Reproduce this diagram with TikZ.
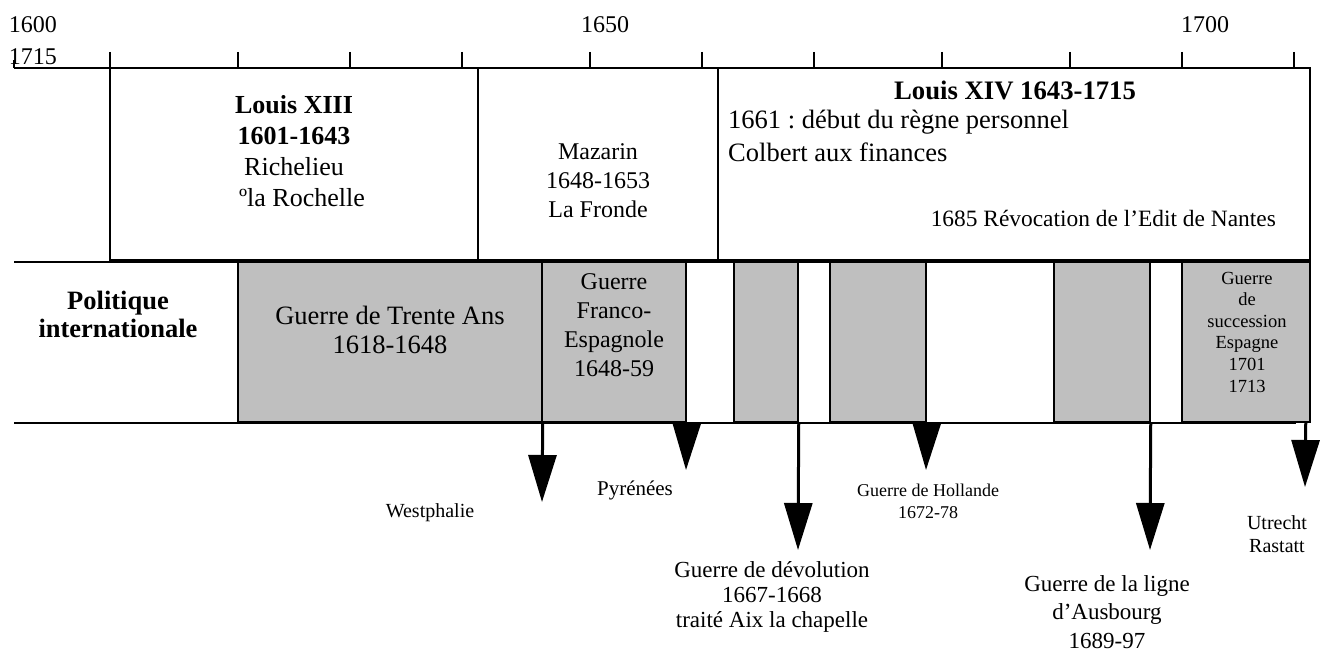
\documentclass[tikz,border=0pt]{standalone}
\usepackage{fontspec}
\setmainfont{Liberation Serif}
\usetikzlibrary{arrows.meta}

\definecolor{wargray}{gray}{0.75}

\tikzset{
  frame/.style={draw, line width=1.5pt, inner sep=0pt},
  warbox/.style={frame, fill=wargray},
  txt/.style={align=center, inner sep=0pt},
  year/.style={inner sep=0pt, font={\fontsize{24}{28}\selectfont}},
  treaty/.style={line width=3pt, -{Triangle[width=28pt,length=47pt]}},
}

\begin{document}
\frenchspacing
\begin{tikzpicture}[x=1pt,y=-1pt]
  \useasboundingbox (0,0) rectangle (1330,655);

  % time axis
  \draw[line width=1.5pt] (14,68) -- (1310,68);
  \draw[line width=1.5pt] (14,60) -- (14,68);
  \foreach \t in {110,238,350,462,590,702,814,942,1070,1182,1294}
    \draw[line width=1.5pt] (\t,52) -- (\t,68);
  \node[year] (y1600) at (33,25) {1600};
  \node[year] (y1715) at (33,57) {1715};
  \node[year] (y1650) at (605,25) {1650};
  \node[year] (y1700) at (1205,25) {1700};

  % reigns
  \node[frame, minimum width=368pt, minimum height=192pt] (louisXIII) at (294,164) {};
  \node[frame, minimum width=240pt, minimum height=192pt] (mazarin) at (598,164) {};
  \node[frame, minimum width=592pt, minimum height=192pt] (louisXIV) at (1014,164) {};

  \node[txt, font={\fontsize{26}{31}\selectfont}] (louisXIIItxt) at (294,151)
    {\textbf{Louis XIII}\\\textbf{1601-1643}\\Richelieu\\\hspace*{16pt}ºla Rochelle};
  \node[txt, font={\fontsize{24}{29}\selectfont}] (mazarintxt) at (598,181)
    {Mazarin\\1648-1653\\La Fronde};
  \node[txt, font={\fontsize{26.7}{31}\selectfont\bfseries}] (louisXIVtxt) at (1015,90)
    {Louis XIV 1643-1715};
  \node[txt, align=left, anchor=west, font={\fontsize{26.5}{33}\selectfont}] (regne) at (728,136)
    {1661 : début du règne personnel\\Colbert aux finances};
  \node[txt, anchor=east, font={\fontsize{23.4}{28}\selectfont}] (nantes) at (1276,218)
    {1685 Révocation de l’Edit de Nantes};

  % foreign policy band
  \draw[line width=1.5pt] (14,262) -- (1310,262);
  \draw[line width=1.5pt] (14,423) -- (1296,423);
  \node[txt, font={\fontsize{26.5}{28}\selectfont\bfseries}] (politique) at (118,314)
    {Politique\\internationale};

  \node[warbox, minimum width=304pt, minimum height=160pt] (trente) at (390,342) {};
  \node[warbox, minimum width=144pt, minimum height=160pt] (franco) at (614,342) {};
  \node[warbox, minimum width=64pt, minimum height=160pt] (devol) at (766,342) {};
  \node[warbox, minimum width=96pt, minimum height=160pt] (holl) at (878,342) {};
  \node[warbox, minimum width=96pt, minimum height=160pt] (ausb) at (1102,342) {};
  \node[warbox, minimum width=128pt, minimum height=160pt] (succ) at (1246,342) {};

  \node[txt, font={\fontsize{26.5}{29}\selectfont}] (trentetxt) at (390,330)
    {Guerre de Trente Ans\\1618-1648};
  \node[txt, font={\fontsize{24}{29}\selectfont}] (francotxt) at (614,325)
    {Guerre\\Franco-\\Espagnole\\1648-59};
  \node[txt, font={\fontsize{18.5}{21.6}\selectfont}] (succtxt) at (1247,332)
    {Guerre\\de\\succession\\Espagne\\1701\\1713};

  % treaties
  \coordinate (westTip) at (542,502);
  \coordinate (pyrTip) at (686,470);
  \coordinate (devolTip) at (798,550);
  \coordinate (hollTip) at (926,470);
  \coordinate (ausbTip) at (1150,550);
  \coordinate (utrTip) at (1305,487);
  \draw[treaty] (trente.south east) -- (westTip);
  \draw[treaty] (franco.south east) -- (pyrTip);
  \draw[treaty] (devol.south east) -- (devolTip);
  \draw[treaty] (holl.south east) -- (hollTip);
  \draw[treaty] (ausb.south east) -- (ausbTip);
  \draw[treaty] ([xshift=-5pt]succ.south east) -- (utrTip);

  \node[txt, font={\fontsize{20}{22}\selectfont}] (westphalie) at (430,513) {Westphalie};
  \node[txt, font={\fontsize{21}{23}\selectfont}] (pyrenees) at (635,490) {Pyrénées};
  \node[txt, font={\fontsize{23}{25}\selectfont}] (devoltxt) at (772,597)
    {Guerre de dévolution\\1667-1668\\traité Aix la chapelle};
  \node[txt, font={\fontsize{18}{22}\selectfont}] (holltxt) at (928,501)
    {Guerre de Hollande\\1672-78};
  \node[txt, font={\fontsize{23}{28.5}\selectfont}] (ausbtxt) at (1107,612)
    {Guerre de la ligne\\d’Ausbourg\\1689-97};
  \node[txt, font={\fontsize{20}{23}\selectfont}] (utrtxt) at (1277,534)
    {Utrecht\\Rastatt};
\end{tikzpicture}
\end{document}
